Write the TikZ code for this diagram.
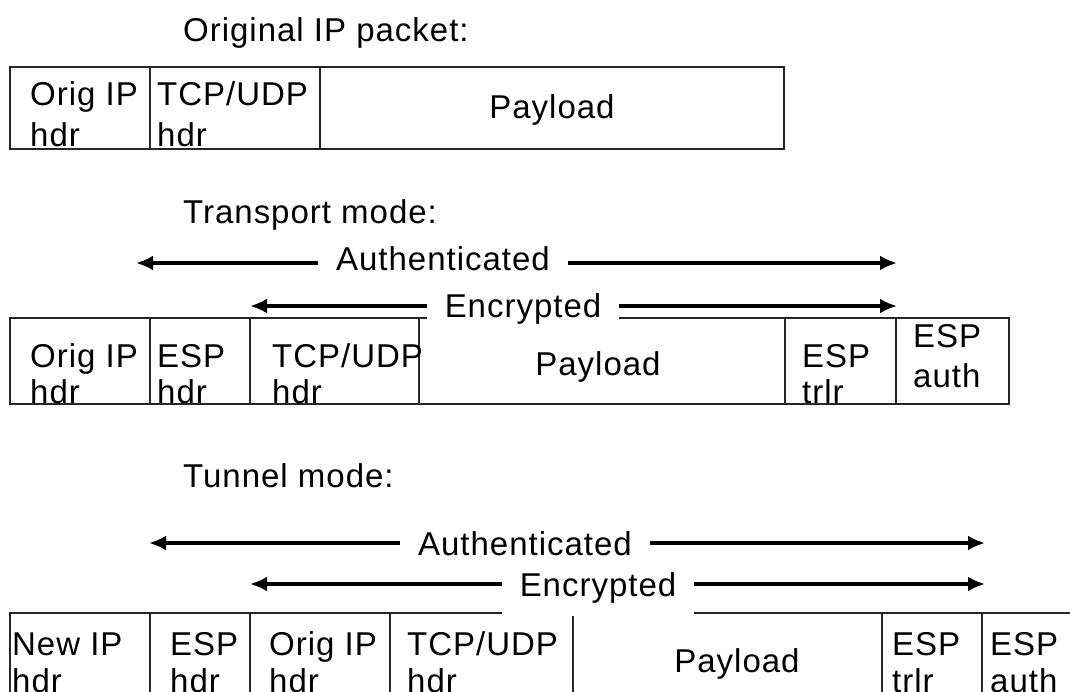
\documentclass[tikz,border=0pt]{standalone}
\usepackage{fontspec}
\setmainfont{Liberation Sans}
\newfontfamily\pktfont[LetterSpace=3]{Liberation Sans}
\usetikzlibrary{arrows.meta}

\tikzset{
  lbl/.style={anchor=base west, inner sep=0pt, font=\pktfont\fontsize{33}{40}\selectfont},
  ctr/.style={anchor=base, inner sep=0pt, font=\pktfont\fontsize{33}{40}\selectfont},
  tag/.style={anchor=base, fill=white, inner xsep=17.5pt, inner ysep=0pt,
              text height=25pt, text depth=8pt, font=\pktfont\fontsize{33}{40}\selectfont},
  frame/.style={draw=black!85, line width=2pt},
  span/.style={line width=3.5pt, -{Latex[length=17pt,width=15pt]}}
}

\begin{document}
\begin{tikzpicture}[x=1pt,y=-1pt]
\useasboundingbox (0,0) rectangle (1070,692);
\clip (0,0) rectangle (1070,692);

% ---- original packet ----
\node[lbl] (t0) at (183,42) {Original IP packet:};
\draw[frame] (10,67) rectangle (784,149);
\draw[frame] (150,67) -- (150,149) (320,67) -- (320,149);
\node[lbl] (o1a) at (30,106) {Orig IP};
\node[lbl] (o1b) at (30,147) {hdr};
\node[lbl] (o2a) at (157,106) {TCP/UDP};
\node[lbl] (o2b) at (157,147) {hdr};
\node[ctr] (o3) at (552,119) {Payload};

% ---- transport mode ----
\node[lbl] (t1) at (183,224) {Transport mode:};
\draw[frame] (10,318) rectangle (1009,404);
\foreach \x in {150,250,419,785,896} \draw[frame] (\x,318) -- (\x,404);
\node[lbl] (p1a) at (30,367) {Orig IP};
\node[lbl] (p1b) at (30,403) {hdr};
\node[lbl] (p2a) at (157,367) {ESP};
\node[lbl] (p2b) at (157,403) {hdr};
\node[lbl] (p3a) at (272,367) {TCP/UDP};
\node[lbl] (p3b) at (272,403) {hdr};
\node[ctr] (p4) at (598,375) {Payload};
\node[lbl] (p5a) at (802,367) {ESP};
\node[lbl] (p5b) at (802,403) {trlr};
\node[lbl] (p6a) at (913,347) {ESP};
\node[lbl] (p6b) at (913,387) {auth};

\coordinate (ta-l) at (136,263);
\coordinate (ta-r) at (897,263);
\coordinate (te-l) at (250,306);
\coordinate (te-r) at (897,306);
\node[tag] (ta) at (443,271) {Authenticated};
\draw[span] (ta.west |- ta-l) -- (ta-l);
\draw[span] (ta.east |- ta-r) -- (ta-r);
\node[tag] (te) at (523,317) {Encrypted};
\draw[span] (te.west |- te-l) -- (te-l);
\draw[span] (te.east |- te-r) -- (te-r);

% ---- tunnel mode ----
\node[lbl] (t2) at (183,487) {Tunnel mode:};
\draw[frame] (10,613) rectangle (1090,720);
\foreach \x in {150,250,390,573,882,982} \draw[frame] (\x,613) -- (\x,720);
\node[lbl] (q1a) at (12,655) {New IP};
\node[lbl] (q1b) at (12,692) {hdr};
\node[lbl] (q2a) at (170,655) {ESP};
\node[lbl] (q2b) at (170,692) {hdr};
\node[lbl] (q3a) at (269,655) {Orig IP};
\node[lbl] (q3b) at (269,692) {hdr};
\node[lbl] (q4a) at (407,655) {TCP/UDP};
\node[lbl] (q4b) at (407,692) {hdr};
\node[ctr] (q5) at (737,672) {Payload};
\node[lbl] (q6a) at (892,655) {ESP};
\node[lbl] (q6b) at (892,692) {trlr};
\node[lbl] (q7a) at (990,655) {ESP};
\node[lbl] (q7b) at (990,692) {auth};

\coordinate (na-l) at (149,543);
\coordinate (na-r) at (985,543);
\coordinate (ne-l) at (250,584);
\coordinate (ne-r) at (985,584);
\node[tag] (na) at (525,555) {Authenticated};
\draw[span] (na.west |- na-l) -- (na-l);
\draw[span] (na.east |- na-r) -- (na-r);
\node[tag, text depth=20pt] (ne) at (598,596) {Encrypted};
\draw[span] (ne.west |- ne-l) -- (ne-l);
\draw[span] (ne.east |- ne-r) -- (ne-r);
\end{tikzpicture}
\end{document}
